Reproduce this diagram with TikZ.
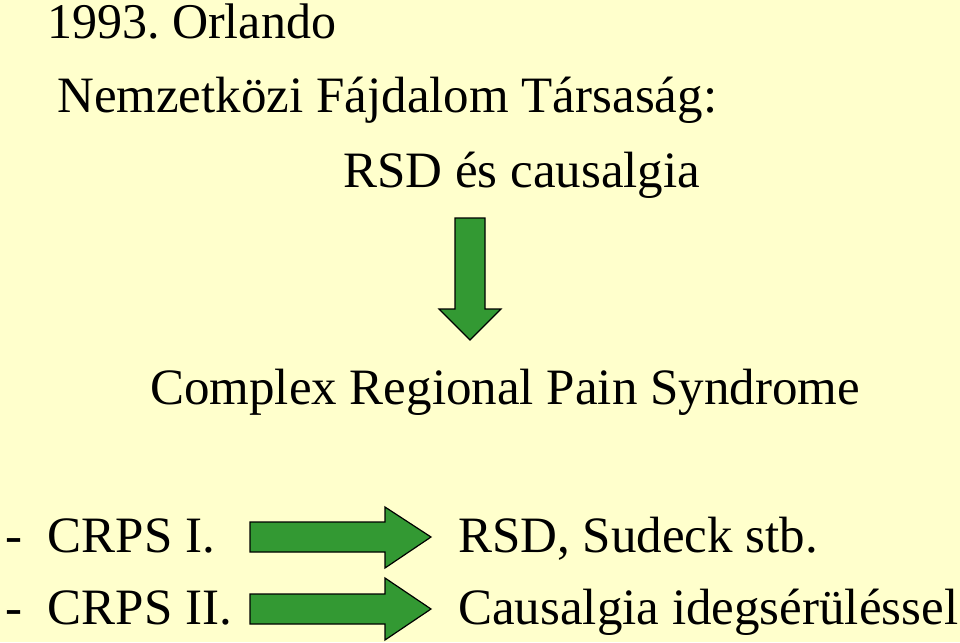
\documentclass[tikz,border=0pt]{standalone}
\usepackage{fontspec}
\setmainfont{Liberation Serif}
\definecolor{bgyellow}{HTML}{FFFFCC}
\definecolor{arrowgreen}{HTML}{339933}
\begin{document}
\frenchspacing
\begin{tikzpicture}[x=1pt,y=-1pt,
  txt/.style={anchor=base west,inner sep=0pt,font=\fontsize{51}{51}\selectfont},
  bigarrow/.style={fill=arrowgreen,draw=black,line width=1.2pt,line join=miter}]
\fill[bgyellow] (0,0) rectangle (960,642);
\useasboundingbox (0,0) rectangle (960,642);
\node[txt,font=\fontsize{50}{50}\selectfont] (t1) at (47,39) {1993. Orlando};
\node[txt] (t2) at (57,112) {Nemzetközi Fájdalom Társaság:};
\node[txt] (t3) at (343,187) {RSD és causalgia};
\node[txt] (t4) at (150,404) {Complex Regional Pain Syndrome};
\node[txt] (c1) at (5,552) {-\ \ CRPS I.};
\node[txt] (c2) at (5,624) {-\ \ CRPS II.};
\node[txt] (r1) at (458,552) {RSD, Sudeck stb.};
\node[txt] (r2) at (458,624) {Causalgia idegsérüléssel};
% down arrow
\draw[bigarrow] (455,218) -- (485,218) -- (485,309) -- (501,309) -- (470,340) -- (439,309) -- (455,309) -- cycle;
% right arrows
\draw[bigarrow] (250,522) -- (385,522) -- (385,507) -- (431,537) -- (385,568) -- (385,552) -- (250,552) -- cycle;
\draw[bigarrow] (250,594) -- (385,594) -- (385,578) -- (431,609) -- (385,640) -- (385,624) -- (250,624) -- cycle;
\end{tikzpicture}
\end{document}
